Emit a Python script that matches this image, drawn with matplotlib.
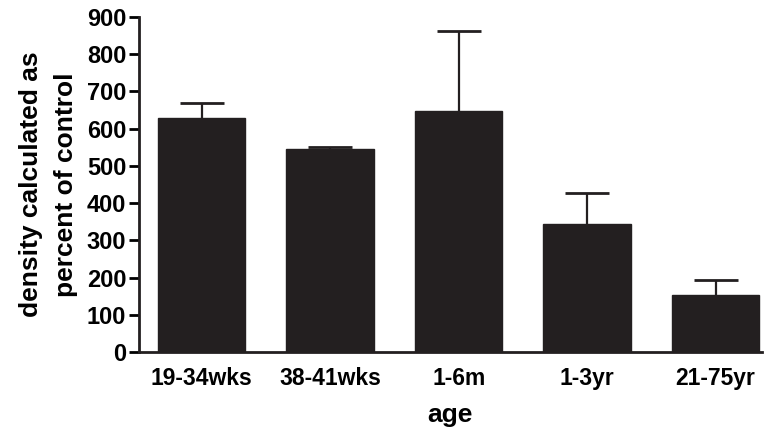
import numpy as np
import matplotlib.pyplot as plt

plt.rcParams['font.family'] = ['Liberation Sans', 'DejaVu Sans']
plt.rcParams['font.weight'] = 'bold'

groups = ['19-34wks', '38-41wks', '1-6m', '1-3yr', '21-75yr']
means = [628, 545, 648, 343, 152]
errs = [42, 5, 214, 85, 41]

fig = plt.figure(figsize=(7.75, 4.32), dpi=100)
ax = fig.add_axes([0.179, 0.185, 0.804, 0.776])

x = np.arange(len(groups))
ax.bar(x, means, width=0.68, color='#231f20', edgecolor='#231f20', zorder=3)
eb = ax.errorbar(x, means, yerr=[np.zeros(len(errs)), errs], fmt='none',
                 ecolor='#231f20', elinewidth=1.6, capsize=16, capthick=2, zorder=2)
eb[1][0].set_visible(False)

ax.set_xlim(-0.49, 4.36)
ax.set_ylim(0, 900)
ax.set_yticks(range(0, 901, 100))
ax.set_xticks(x)
ax.set_xticklabels(groups, fontsize=16.5, fontweight='bold')
ax.tick_params(axis='y', labelsize=17, width=2, length=7, pad=2)
ax.tick_params(axis='x', length=0, pad=11)
for s in ['top', 'right']:
    ax.spines[s].set_visible(False)
for s in ['left', 'bottom']:
    ax.spines[s].set_linewidth(2)
    ax.spines[s].set_color('#231f20')

ax.set_xlabel('age', fontsize=19, fontweight='bold', labelpad=9)
ax.set_ylabel('density calculated as\npercent of control', fontsize=19,
              fontweight='bold', linespacing=1.6, labelpad=6)

fig.savefig('out.png', dpi=100)
